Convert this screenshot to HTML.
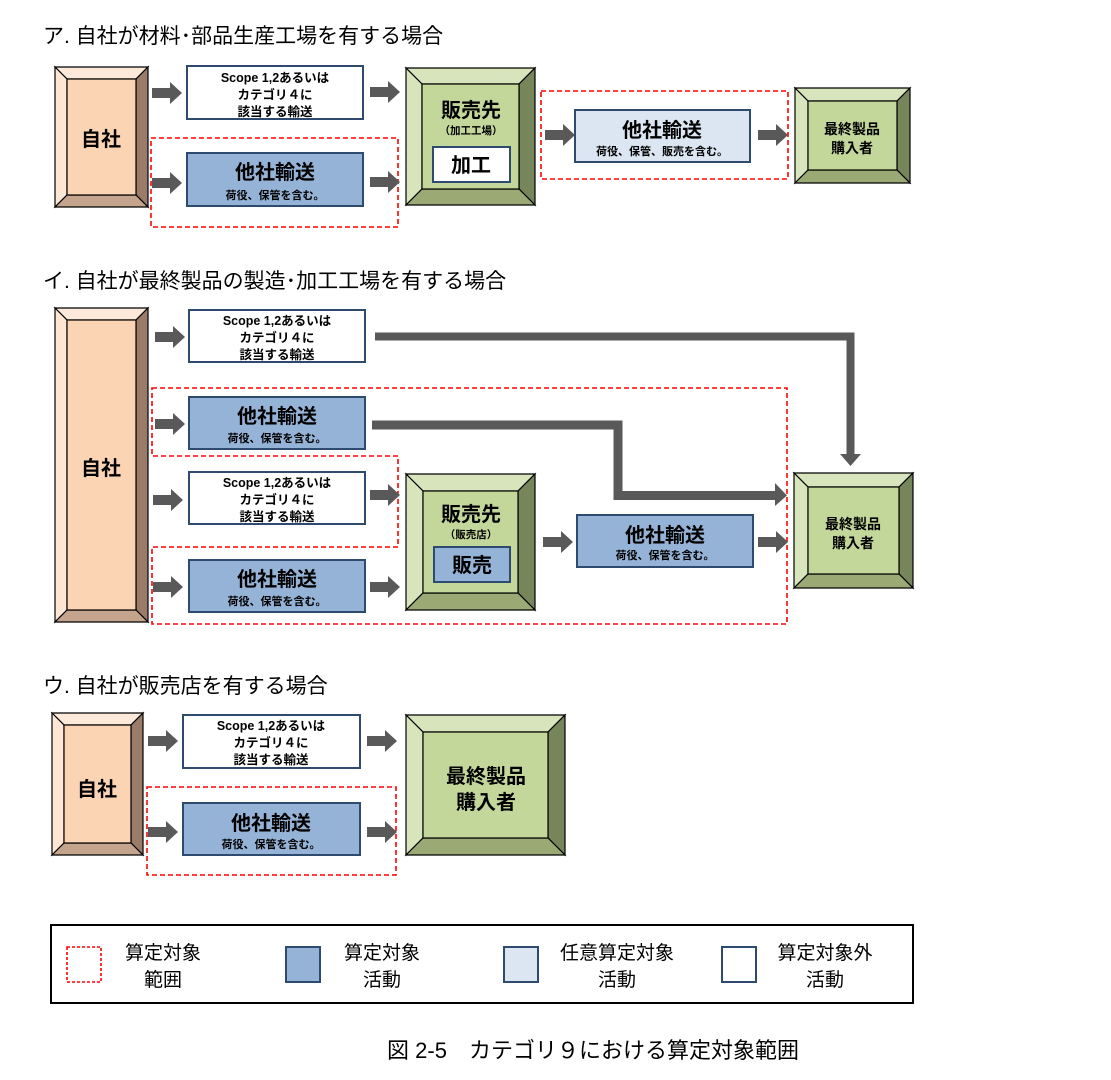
<!DOCTYPE html>
<html><head><meta charset="utf-8"><style>
html,body{margin:0;padding:0;background:#fff;}
svg{display:block;}
text{font-family:"Liberation Sans","Noto Sans CJK JP",sans-serif;fill:#000;}
.t{font-size:21px;}
.sc{font-size:12.5px;font-weight:bold;}
.big{font-size:20px;font-weight:bold;}
.sub{font-size:11px;font-weight:bold;}
.ol{stroke:#000;stroke-width:1.2;}
.rd{fill:none;stroke:#FF0000;stroke-width:1.6;stroke-dasharray:5,3;}
.lg{font-size:19px;}
</style></head><body>
<svg width="1111" height="1080" viewBox="0 0 1111 1080" xmlns="http://www.w3.org/2000/svg">
<defs>
<path id="ar" d="M0,-5 H18 V-11 L30,0 L18,11 V5 H0 Z" fill="#595959"/>
</defs>

<!-- ===== Section ア ===== -->
<text class="t" x="43" y="43">ア. 自社が材料･部品生産工場を有する場合</text>

<g class="ol">
<polygon points="55,67 148,67 136,79 67,79" fill="#FDE9D9"/>
<polygon points="55,67 67,79 67,195 55,207" fill="#FDE6D4"/>
<polygon points="148,67 148,207 136,195 136,79" fill="#9B7C6B"/>
<polygon points="55,207 67,195 136,195 148,207" fill="#C4A48D"/>
<rect x="67" y="79" width="69" height="116" fill="#FBD4B4"/>
</g>
<text class="big" x="101" y="146" text-anchor="middle">自社</text>

<use href="#ar" x="152" y="93"/>
<use href="#ar" x="152" y="183"/>
<rect x="151" y="138" width="247" height="89" class="rd"/>
<rect x="187" y="66" width="176" height="53" fill="#fff" stroke="#2F4A6F" stroke-width="2"/>
<text class="sc" x="275" y="82" text-anchor="middle">Scope 1,2あるいは</text>
<text class="sc" x="275" y="99" text-anchor="middle">カテゴリ４に</text>
<text class="sc" x="275" y="116" text-anchor="middle">該当する輸送</text>
<rect x="187" y="153" width="176" height="53" fill="#95B3D7" stroke="#2F4A6F" stroke-width="2"/>
<text class="big" x="275" y="179" text-anchor="middle">他社輸送</text>
<text class="sub" x="275" y="199" text-anchor="middle">荷役、保管を含む。</text>
<use href="#ar" x="370" y="92"/>
<use href="#ar" x="370" y="182"/>

<g class="ol">
<polygon points="406,68 535,68 519,84 422,84" fill="#D8E4BC"/>
<polygon points="406,68 422,84 422,189 406,205" fill="#D8E4BC"/>
<polygon points="535,68 535,205 519,189 519,84" fill="#76855A"/>
<polygon points="406,205 422,189 519,189 535,205" fill="#9BAA74"/>
<rect x="422" y="84" width="97" height="105" fill="#C4D79B"/>
</g>
<text x="471" y="117" text-anchor="middle" style="font-size:20px;font-weight:bold">販売先</text>
<text x="471" y="134" text-anchor="middle" style="font-size:10.5px;font-weight:bold">（加工工場）</text>
<rect x="433" y="147" width="77" height="35" fill="#fff" stroke="#2F4A6F" stroke-width="2"/>
<text class="big" x="471" y="172" text-anchor="middle">加工</text>

<rect x="541" y="91" width="247" height="88" class="rd"/>
<use href="#ar" x="545" y="135"/>
<rect x="575" y="110" width="175" height="52" fill="#DCE6F2" stroke="#2F4A6F" stroke-width="2"/>
<text class="big" x="662" y="137" text-anchor="middle">他社輸送</text>
<text class="sub" x="662" y="155" text-anchor="middle">荷役、保管、販売を含む。</text>
<use href="#ar" x="758" y="135"/>

<g class="ol">
<polygon points="795,88 910,88 897,101 808,101" fill="#D8E4BC"/>
<polygon points="795,88 808,101 808,170 795,183" fill="#D8E4BC"/>
<polygon points="910,88 910,183 897,170 897,101" fill="#76855A"/>
<polygon points="795,183 808,170 897,170 910,183" fill="#9BAA74"/>
<rect x="808" y="101" width="89" height="69" fill="#C4D79B"/>
</g>
<text x="852" y="134" text-anchor="middle" style="font-size:14px;font-weight:bold">最終製品</text>
<text x="852" y="153" text-anchor="middle" style="font-size:14px;font-weight:bold">購入者</text>

<!-- ===== Section イ ===== -->
<text class="t" x="43" y="288">イ. 自社が最終製品の製造･加工工場を有する場合</text>

<g class="ol">
<polygon points="55,308 148,308 136,320 67,320" fill="#FDE9D9"/>
<polygon points="55,308 67,320 67,610 55,622" fill="#FDE6D4"/>
<polygon points="148,308 148,622 136,610 136,320" fill="#9B7C6B"/>
<polygon points="55,622 67,610 136,610 148,622" fill="#C4A48D"/>
<rect x="67" y="320" width="69" height="290" fill="#FBD4B4"/>
</g>
<text class="big" x="101" y="475" text-anchor="middle">自社</text>

<polygon points="152,388 787,388 787,624 152,624 152,547 398,547 398,456 152,456" class="rd"/>

<path d="M375,336.5 H850.5 V455" fill="none" stroke="#595959" stroke-width="8"/>
<polygon points="840,454 861,454 850.5,466" fill="#595959"/>
<path d="M372,425 H618 V495.5 H776" fill="none" stroke="#595959" stroke-width="9"/>
<polygon points="775,483 787,495.5 775,506" fill="#595959"/>

<use href="#ar" x="155" y="337"/>
<use href="#ar" x="155" y="424"/>
<use href="#ar" x="153" y="500"/>
<use href="#ar" x="153" y="587"/>

<rect x="189" y="310" width="176" height="52" fill="#fff" stroke="#2F4A6F" stroke-width="2"/>
<text class="sc" x="277" y="325" text-anchor="middle">Scope 1,2あるいは</text>
<text class="sc" x="277" y="342" text-anchor="middle">カテゴリ４に</text>
<text class="sc" x="277" y="359" text-anchor="middle">該当する輸送</text>
<rect x="189" y="397" width="176" height="52" fill="#95B3D7" stroke="#2F4A6F" stroke-width="2"/>
<text class="big" x="277" y="423" text-anchor="middle">他社輸送</text>
<text class="sub" x="277" y="442" text-anchor="middle">荷役、保管を含む。</text>
<rect x="189" y="472" width="176" height="52" fill="#fff" stroke="#2F4A6F" stroke-width="2"/>
<text class="sc" x="277" y="487" text-anchor="middle">Scope 1,2あるいは</text>
<text class="sc" x="277" y="504" text-anchor="middle">カテゴリ４に</text>
<text class="sc" x="277" y="521" text-anchor="middle">該当する輸送</text>
<rect x="189" y="560" width="176" height="52" fill="#95B3D7" stroke="#2F4A6F" stroke-width="2"/>
<text class="big" x="277" y="586" text-anchor="middle">他社輸送</text>
<text class="sub" x="277" y="605" text-anchor="middle">荷役、保管を含む。</text>

<use href="#ar" x="370" y="495"/>
<use href="#ar" x="370" y="587"/>

<g class="ol">
<polygon points="406,474 535,474 518,491 423,491" fill="#D8E4BC"/>
<polygon points="406,474 423,491 423,593 406,610" fill="#D8E4BC"/>
<polygon points="535,474 535,610 518,593 518,491" fill="#76855A"/>
<polygon points="406,610 423,593 518,593 535,610" fill="#9BAA74"/>
<rect x="423" y="491" width="95" height="102" fill="#C4D79B"/>
</g>
<text x="471" y="521" text-anchor="middle" style="font-size:20px;font-weight:bold">販売先</text>
<text x="471" y="538" text-anchor="middle" style="font-size:10.5px;font-weight:bold">（販売店）</text>
<rect x="434" y="547" width="76" height="35" fill="#95B3D7" stroke="#2F4A6F" stroke-width="2"/>
<text class="big" x="472" y="572" text-anchor="middle">販売</text>

<use href="#ar" x="543" y="542"/>
<rect x="577" y="515" width="176" height="52" fill="#95B3D7" stroke="#2F4A6F" stroke-width="2"/>
<text class="big" x="665" y="542" text-anchor="middle">他社輸送</text>
<text class="sub" x="665" y="559" text-anchor="middle">荷役、保管を含む。</text>
<use href="#ar" x="758" y="542"/>

<g class="ol">
<polygon points="794,473 913,473 899,487 808,487" fill="#D8E4BC"/>
<polygon points="794,473 808,487 808,574 794,588" fill="#D8E4BC"/>
<polygon points="913,473 913,588 899,574 899,487" fill="#76855A"/>
<polygon points="794,588 808,574 899,574 913,588" fill="#9BAA74"/>
<rect x="808" y="487" width="91" height="87" fill="#C4D79B"/>
</g>
<text x="853" y="529" text-anchor="middle" style="font-size:14px;font-weight:bold">最終製品</text>
<text x="853" y="548" text-anchor="middle" style="font-size:14px;font-weight:bold">購入者</text>

<!-- ===== Section ウ ===== -->
<text class="t" x="43" y="693">ウ. 自社が販売店を有する場合</text>

<g class="ol">
<polygon points="52,713 143,713 131,725 64,725" fill="#FDE9D9"/>
<polygon points="52,713 64,725 64,843 52,855" fill="#FDE6D4"/>
<polygon points="143,713 143,855 131,843 131,725" fill="#9B7C6B"/>
<polygon points="52,855 64,843 131,843 143,855" fill="#C4A48D"/>
<rect x="64" y="725" width="67" height="118" fill="#FBD4B4"/>
</g>
<text class="big" x="97" y="796" text-anchor="middle">自社</text>

<use href="#ar" x="148" y="741"/>
<use href="#ar" x="148" y="832"/>
<rect x="147" y="787" width="249" height="88" class="rd"/>
<rect x="183" y="715" width="177" height="53" fill="#fff" stroke="#2F4A6F" stroke-width="2"/>
<text class="sc" x="271" y="730" text-anchor="middle">Scope 1,2あるいは</text>
<text class="sc" x="271" y="747" text-anchor="middle">カテゴリ４に</text>
<text class="sc" x="271" y="764" text-anchor="middle">該当する輸送</text>
<rect x="183" y="803" width="177" height="52" fill="#95B3D7" stroke="#2F4A6F" stroke-width="2"/>
<text class="big" x="271" y="830" text-anchor="middle">他社輸送</text>
<text class="sub" x="271" y="848" text-anchor="middle">荷役、保管を含む。</text>
<use href="#ar" x="367" y="741"/>
<use href="#ar" x="367" y="832"/>

<g class="ol">
<polygon points="406,715 565,715 548,732 423,732" fill="#D8E4BC"/>
<polygon points="406,715 423,732 423,838 406,855" fill="#D8E4BC"/>
<polygon points="565,715 565,855 548,838 548,732" fill="#76855A"/>
<polygon points="406,855 423,838 548,838 565,855" fill="#9BAA74"/>
<rect x="423" y="732" width="125" height="106" fill="#C4D79B"/>
</g>
<text class="big" x="486" y="783" text-anchor="middle">最終製品</text>
<text class="big" x="486" y="809" text-anchor="middle">購入者</text>

<!-- ===== Legend ===== -->
<rect x="51" y="925" width="862" height="78" fill="#fff" stroke="#000" stroke-width="2"/>
<rect x="67" y="947" width="34" height="35" class="rd" style="stroke-dasharray:3,2"/>
<text class="lg" x="163" y="959" text-anchor="middle">算定対象</text>
<text class="lg" x="163" y="986" text-anchor="middle">範囲</text>
<rect x="286" y="947" width="34" height="35" fill="#95B3D7" stroke="#2F4A6F" stroke-width="2"/>
<text class="lg" x="382" y="959" text-anchor="middle">算定対象</text>
<text class="lg" x="382" y="986" text-anchor="middle">活動</text>
<rect x="504" y="947" width="34" height="35" fill="#DCE6F2" stroke="#2F4A6F" stroke-width="2"/>
<text class="lg" x="617" y="959" text-anchor="middle">任意算定対象</text>
<text class="lg" x="617" y="986" text-anchor="middle">活動</text>
<rect x="722" y="947" width="34" height="35" fill="#fff" stroke="#2F4A6F" stroke-width="2"/>
<text class="lg" x="825" y="959" text-anchor="middle">算定対象外</text>
<text class="lg" x="825" y="986" text-anchor="middle">活動</text>

<text x="593" y="1058" text-anchor="middle" style="font-size:22px">図 2-5　カテゴリ９における算定対象範囲</text>
</svg>
</body></html>
